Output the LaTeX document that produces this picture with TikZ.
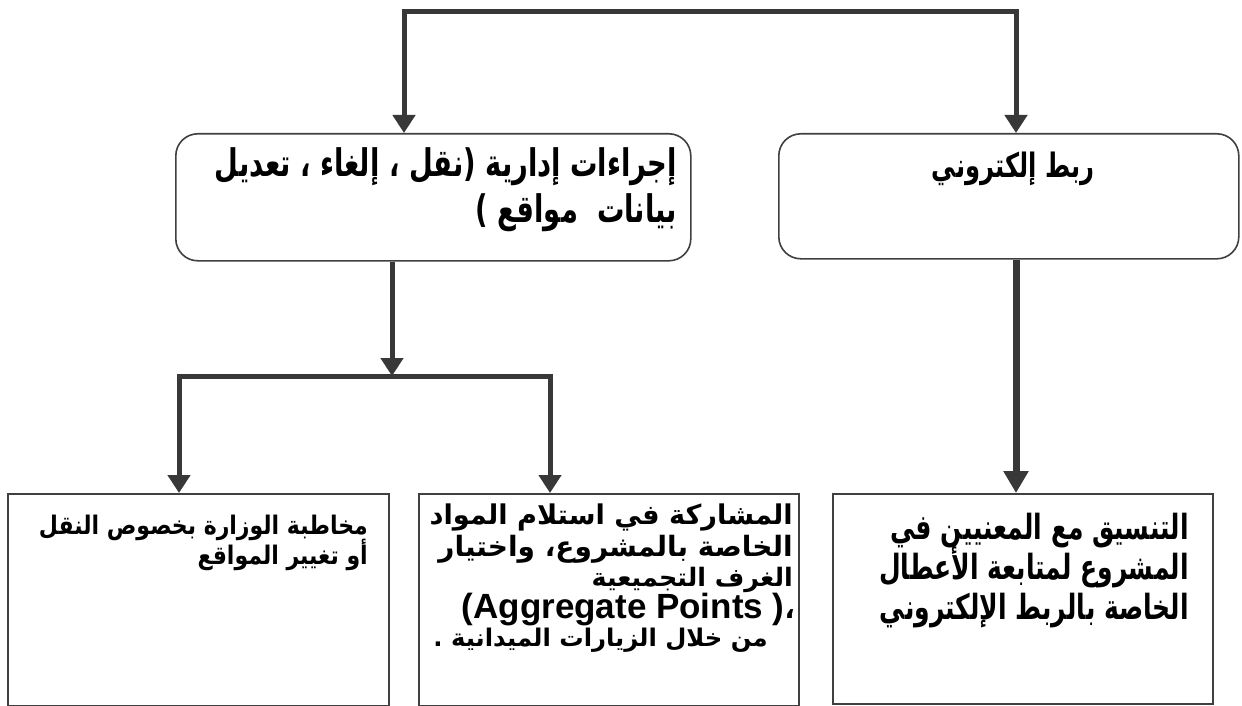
\documentclass[tikz,border=0pt]{standalone}
\usepackage{fontspec}
\newfontfamily\arnarrow[Script=Arabic,FakeStretch=0.72]{DejaVu Sans}
\newfontfamily\armid[Script=Arabic,FakeStretch=0.86]{DejaVu Sans}
\newfontfamily\arwide[Script=Arabic]{DejaVu Sans}
\newfontfamily\latinfont{Liberation Sans}
\TeXXeTstate=1
\usetikzlibrary{arrows.meta}
\tikzset{
  rbox/.style={draw=black!75, line width=1.6pt, rounded corners=22pt, anchor=north west, inner sep=0pt},
  sbox/.style={draw=black!75, line width=1.6pt, anchor=north west, inner sep=0pt},
  conn/.style={draw=black!78, line width=5pt, line join=miter},
  tip/.tip={Triangle[width=22pt,length=18pt]},
  lnA/.style={font=\arnarrow\bfseries\fontsize{#1}{#1}\selectfont, inner sep=0pt, anchor=base east, text=black},
  lnB/.style={font=\armid\bfseries\fontsize{#1}{#1}\selectfont, inner sep=0pt, anchor=base east, text=black},
  lnC/.style={font=\arwide\bfseries\fontsize{#1}{#1}\selectfont, inner sep=0pt, anchor=base east, text=black},
}
\newcommand{\ar}[1]{\beginR #1\endR}
\begin{document}
\begin{tikzpicture}[x=1pt,y=-1pt]
\useasboundingbox (0,0) rectangle (1242,706);
\fill[white] (0,0) rectangle (1242,706);

% boxes
\node[rbox, minimum width=515pt, minimum height=127pt] (b1) at (175,133) {};
\node[rbox, minimum width=460pt, minimum height=125pt] (b2) at (778,133) {};
\node[sbox, minimum width=381pt, minimum height=212pt] (c1) at (7,493) {};
\node[sbox, minimum width=380pt, minimum height=212pt] (c2) at (418,493) {};
\node[sbox, minimum width=380pt, minimum height=210pt] (c3) at (832,493) {};

% texts of b1
\node[lnA=38] (t1a) at (677,176) {\ar{إجراءات إدارية (نقل ، إلغاء ، تعديل}};
\node[lnA=38] (t1b) at (677,222) {\ar{بيانات\ \ مواقع )}};
% text of b2
\node[lnA=33.6, anchor=base] (t2) at (1013,178) {\ar{ربط إلكتروني}};
% texts of c1
\node[lnB=25.6] (t3a) at (368,534) {\ar{مخاطبة الوزارة بخصوص النقل}};
\node[lnB=25.6] (t3b) at (368,564) {\ar{أو تغيير المواقع}};
% texts of c2
\node[lnC=27.2] (t4a) at (793,524) {\ar{المشاركة في استلام المواد}};
\node[lnC=28] (t4b) at (793,556) {\ar{الخاصة بالمشروع، واختيار}};
\node[lnC=25.4] (t4c) at (793,586) {\ar{الغرف التجميعية}};
\node[lnC=27] (t4d) at (795,618) {{\latinfont\bfseries\fontsize{35}{35}\selectfont(Aggregate Points )}،};
\node[lnC=24.3] (t4e) at (768,646) {\ar{من خلال الزيارات الميدانية .}};
% texts of c3
\node[lnA=34.7] (t5a) at (1189,539) {\ar{التنسيق مع المعنيين في}};
\node[lnA=34.7] (t5b) at (1189,579) {\ar{المشروع لمتابعة الأعطال}};
\node[lnA=34.7] (t5c) at (1189,619) {\ar{الخاصة بالربط الإلكتروني}};

% connectors
\coordinate (s1) at (404,12);
\coordinate (s2) at (1016,12);
\draw[conn, {tip}-{tip}] (s1 |- b1.north) -- (s1) -- (s2) -- (s2 |- b2.north);

\coordinate (m) at (392,376);
\coordinate (mL) at (179,376);
\coordinate (mR) at (550,376);
\draw[conn, -{tip}] (b1.south -| m) -- (m);
\draw[conn, {tip}-{tip}] (mL |- c1.north) -- (mL) -- (mR) -- (mR |- c2.north);
\draw[conn, line width=7pt, -{Triangle[width=24pt,length=22pt]}] (b2.south -| s2) -- (s2 |- c3.north);
\end{tikzpicture}
\end{document}
